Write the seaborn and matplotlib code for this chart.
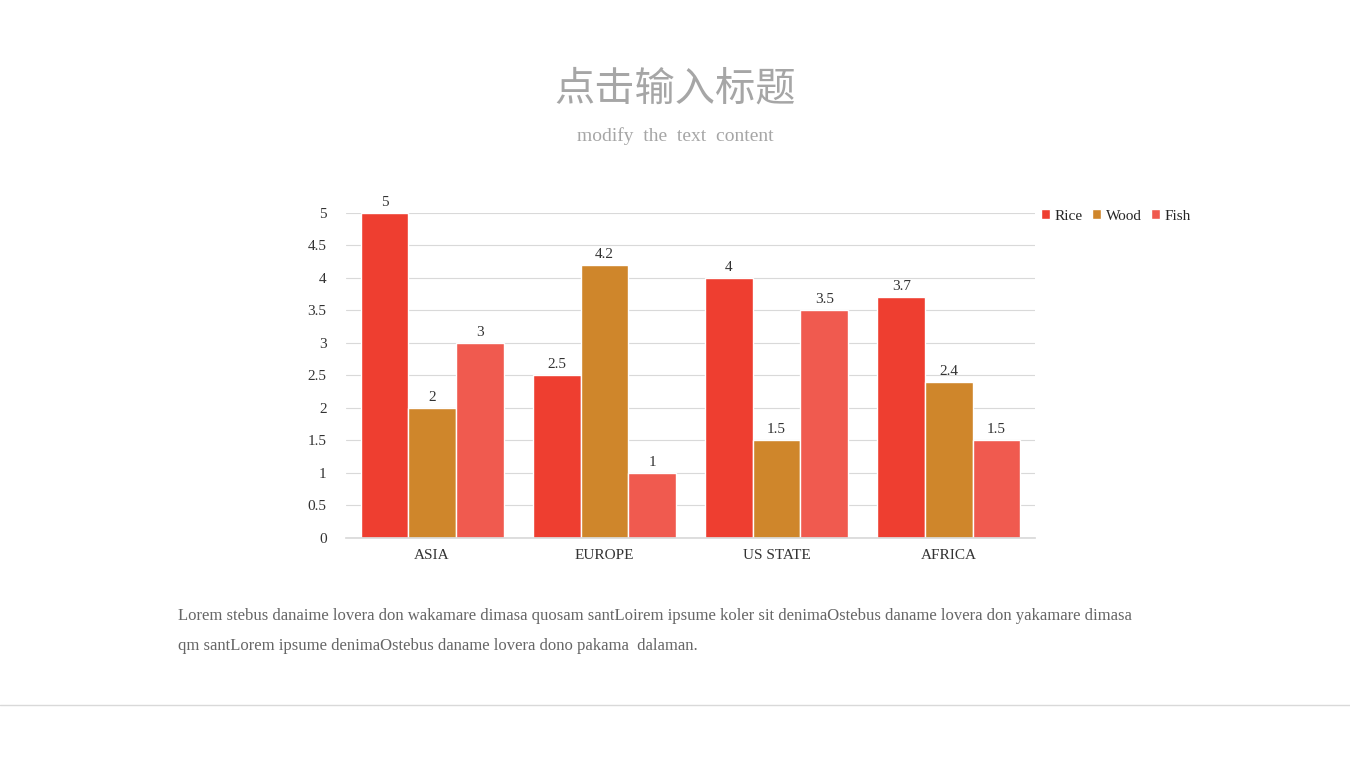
import pandas as pd
import matplotlib
matplotlib.use("Agg")
import matplotlib.pyplot as plt
import seaborn as sns

REGIONS = ["ASIA", "EUROPE", "US STATE", "AFRICA"]
SERIES = ["Rice", "Wood", "Fish"]
RICE = [5, 2.5, 4, 3.7]
WOOD = [2, 4.2, 1.5, 2.4]
FISH = [3, 1, 3.5, 1.5]
COLORS = ["#EE3E30", "#CF862B", "#F05A4F"]

df = pd.DataFrame({
    "region": REGIONS * 3,
    "series": [s for s in SERIES for _ in REGIONS],
    "value": RICE + WOOD + FISH,
})

sns.set_theme(style="white")
plt.rcParams["font.family"] = ["Liberation Serif", "Noto Sans CJK SC"]

fig = plt.figure(figsize=(13.5, 7.59), dpi=100)
ax = fig.add_axes([0.2563, 0.2912, 0.5104, 0.4282])
sns.barplot(data=df, x="region", y="value", hue="series", palette=COLORS,
            width=0.83, ax=ax, saturation=1)

for c in ax.containers:
    ax.bar_label(c, fmt="%g", padding=3, fontsize=11, color="#333333")

ax.set_ylim(0, 5)
ax.set_yticks([0, 0.5, 1, 1.5, 2, 2.5, 3, 3.5, 4, 4.5, 5])
ax.set_yticklabels(["0", "0.5", "1", "1.5", "2", "2.5", "3", "3.5", "4", "4.5", "5"])
ax.yaxis.grid(True, color="#D9D9D9", linewidth=0.8)
ax.set_axisbelow(True)
ax.tick_params(length=0, labelsize=11, colors="#333333")
ax.tick_params(axis="y", pad=14)
ax.tick_params(axis="x", pad=8)
ax.set_xlabel("")
ax.set_ylabel("")
for s in ["top", "right", "left"]:
    ax.spines[s].set_visible(False)
ax.spines["bottom"].set_color("#D9D9D9")

ax.legend(loc="upper left", bbox_to_anchor=(1.0, 1.03), ncol=3, frameon=False,
          fontsize=11, handlelength=0.6, handleheight=0.6, handletextpad=0.3,
          columnspacing=0.6, borderaxespad=0)

fig.text(0.5, 0.882, "点击输入标题", ha="center", va="center", fontsize=29,
         color="#A6A6A6", family=["Noto Sans CJK SC", "DejaVu Sans"])
fig.text(0.5, 0.821, "modify  the  text  content", ha="center", va="center",
         fontsize=14, color="#A6A6A6")
fig.text(0.132, 0.188,
         "Lorem stebus danaime lovera don wakamare dimasa quosam santLoirem ipsume koler sit "
         "denimaOstebus daname lovera don yakamare dimasa",
         ha="left", va="center", fontsize=12, color="#666666")
fig.text(0.132, 0.149,
         "qm santLorem ipsume denimaOstebus daname lovera dono pakama  dalaman.",
         ha="left", va="center", fontsize=12, color="#666666")
fig.add_artist(plt.Line2D([0, 1], [0.071, 0.071], color="#D9D9D9", linewidth=1))

fig.savefig("out.png", dpi=100)
